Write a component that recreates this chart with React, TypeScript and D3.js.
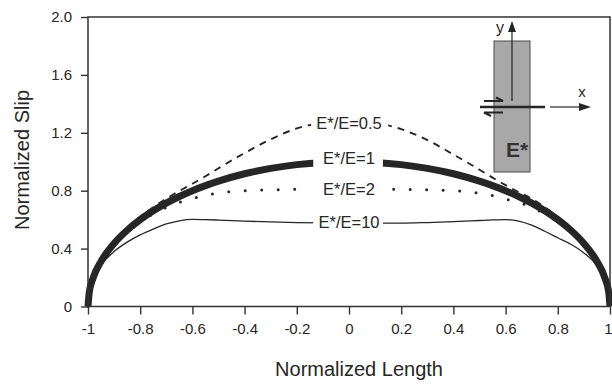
import { useEffect, useRef } from 'react'
import * as d3 from 'd3'

// normalized position along the fault
const xs = [
  -1, -0.995, -0.98, -0.95, -0.9, -0.85, -0.8, -0.75, -0.7, -0.65, -0.6, -0.55, -0.5, -0.4, -0.3, -0.2, -0.1,
  0, 0.1, 0.2, 0.3, 0.4, 0.5, 0.55, 0.6, 0.65, 0.7, 0.75, 0.8, 0.85, 0.9, 0.95, 0.98, 0.995, 1,
]

// E*/E = 0.5 (dashed)
const slipHalf = [
  0, 0.1, 0.2, 0.318, 0.45, 0.545, 0.62, 0.686, 0.745, 0.798, 0.848, 0.9, 0.955, 1.06, 1.155, 1.23, 1.27,
  1.285, 1.27, 1.225, 1.15, 1.05, 0.945, 0.89, 0.838, 0.79, 0.745, 0.686, 0.62, 0.545, 0.45, 0.318, 0.2, 0.1, 0,
]
// E*/E = 1 (thick)
const slipOne = [
  0, 0.1, 0.199, 0.312, 0.436, 0.527, 0.6, 0.661, 0.714, 0.76, 0.8, 0.835, 0.866, 0.917, 0.954, 0.98, 0.995,
  1.0, 0.995, 0.98, 0.954, 0.917, 0.866, 0.835, 0.8, 0.76, 0.714, 0.661, 0.6, 0.527, 0.436, 0.312, 0.199, 0.1, 0,
]
// E*/E = 2 (dotted)
const slipTwo = [
  0, 0.1, 0.198, 0.308, 0.428, 0.515, 0.585, 0.64, 0.685, 0.72, 0.745, 0.768, 0.785, 0.8, 0.806, 0.81, 0.812,
  0.813, 0.812, 0.81, 0.806, 0.8, 0.783, 0.766, 0.742, 0.718, 0.685, 0.64, 0.585, 0.515, 0.428, 0.308, 0.198, 0.1, 0,
]
// E*/E = 10 (thin)
const slipTen = [
  0, 0.09, 0.18, 0.285, 0.38, 0.445, 0.495, 0.535, 0.57, 0.592, 0.602, 0.6, 0.597, 0.59, 0.584, 0.58, 0.578,
  0.577, 0.576, 0.576, 0.58, 0.586, 0.594, 0.598, 0.6, 0.59, 0.562, 0.52, 0.475, 0.43, 0.37, 0.28, 0.18, 0.09, 0,
]

const xTicks = [-1, -0.8, -0.6, -0.4, -0.2, 0, 0.2, 0.4, 0.6, 0.8, 1]
const xTickLabels = ['-1', '-0.8', '-0.6', '-0.4', '-0.2', '0', '0.2', '0.4', '0.6', '0.8', '1']
const yTicks = [0, 0.4, 0.8, 1.2, 1.6, 2.0]
const yTickLabels = ['0', '0.4', '0.8', '1.2', '1.6', '2.0']

const labels = [
  { text: 'E*/E=0.5', y: 1.268, gapL: -0.145, gapR: 0.15 },
  { text: 'E*/E=1', y: 1.026, gapL: -0.137, gapR: 0.13 },
  { text: 'E*/E=2', y: 0.812, gapL: -0.168, gapR: 0.155 },
  { text: 'E*/E=10', y: 0.584, gapL: -0.137, gapR: 0.13 },
]

const ink = '#262626'
const font = '"Liberation Sans", Arial, Helvetica, sans-serif'

const App = () => {
  const svgRef = useRef<SVGSVGElement>(null)

  useEffect(() => {
    if (!svgRef.current) return
    const svg = d3.select(svgRef.current)
    svg.selectAll('*').remove()

    const left = 88
    const right = 610
    const top = 17
    const bottom = 306.5

    const x = d3.scaleLinear().domain([-1, 1]).range([left, right])
    const y = d3.scaleLinear().domain([0, 2]).range([bottom, top])

    const line = d3
      .line<number>()
      .x((_, i) => x(xs[i]))
      .y((d) => y(d))
      .curve(d3.curveMonotoneX)

    // curves
    svg.append('path').attr('d', line(slipTen)).attr('fill', 'none').attr('stroke', ink).attr('stroke-width', 1.3)
    svg
      .append('path')
      .attr('d', line(slipTwo))
      .attr('fill', 'none')
      .attr('stroke', ink)
      .attr('stroke-width', 3)
      .attr('stroke-linecap', 'round')
      .attr('stroke-dasharray', '0 16.5')
    svg.append('path').attr('d', line(slipOne)).attr('fill', 'none').attr('stroke', ink).attr('stroke-width', 7)
    svg
      .append('path')
      .attr('d', line(slipHalf))
      .attr('fill', 'none')
      .attr('stroke', ink)
      .attr('stroke-width', 1.9)
      .attr('stroke-dasharray', '7 6')

    // curve labels with white gaps
    labels.forEach((l) => {
      svg
        .append('rect')
        .attr('x', x(l.gapL))
        .attr('y', y(l.y + 0.055))
        .attr('width', x(l.gapR) - x(l.gapL))
        .attr('height', y(l.y - 0.065) - y(l.y + 0.055))
        .attr('fill', '#fff')
      svg
        .append('text')
        .attr('x', x(0))
        .attr('y', y(l.y))
        .attr('dy', '0.36em')
        .attr('text-anchor', 'middle')
        .style('font-family', font)
        .style('font-size', '16.5px')
        .style('fill', ink)
        .text(l.text)
    })

    // frame
    svg
      .append('rect')
      .attr('x', left)
      .attr('y', top)
      .attr('width', right - left)
      .attr('height', bottom - top)
      .attr('fill', 'none')
      .attr('stroke', '#333')
      .attr('stroke-width', 1.5)

    // axes
    const xAxis = svg
      .append('g')
      .attr('transform', `translate(0,${bottom})`)
      .call(
        d3
          .axisBottom(x)
          .tickValues(xTicks)
          .tickSize(8)
          .tickSizeOuter(0)
          .tickPadding(9)
          .tickFormat((_, i) => xTickLabels[i])
      )
    const yAxis = svg
      .append('g')
      .attr('transform', `translate(${left},0)`)
      .call(
        d3
          .axisLeft(y)
          .tickValues(yTicks)
          .tickSize(7)
          .tickSizeOuter(0)
          .tickPadding(9)
          .tickFormat((_, i) => yTickLabels[i])
      )
    ;[xAxis, yAxis].forEach((g) => {
      g.select('.domain').remove()
      g.selectAll('line').attr('stroke', '#333').attr('stroke-width', 1.4)
      g.selectAll('text').style('font-family', font).style('font-size', '15px').style('fill', ink)
    })
    // last label sits against the right edge
    xAxis
      .selectAll<SVGTextElement, number>('text')
      .filter((d) => d === 1)
      .attr('text-anchor', 'end')
      .attr('x', 2)

    svg
      .append('text')
      .attr('x', 359)
      .attr('y', 376)
      .attr('text-anchor', 'middle')
      .style('font-family', font)
      .style('font-size', '20px')
      .style('fill', ink)
      .text('Normalized Length')

    svg
      .append('text')
      .attr('transform', 'translate(29,160) rotate(-90)')
      .attr('text-anchor', 'middle')
      .style('font-family', font)
      .style('font-size', '20px')
      .style('fill', ink)
      .text('Normalized Slip')

    // inset sketch
    const inset = svg.append('g')
    inset
      .append('rect')
      .attr('x', 494)
      .attr('y', 41)
      .attr('width', 36)
      .attr('height', 131)
      .attr('fill', '#a8a8a8')
      .attr('stroke', '#4a4a4a')
      .attr('stroke-width', 1)
    inset.append('line').attr('x1', 512).attr('y1', 101).attr('x2', 512).attr('y2', 28).attr('stroke', ink).attr('stroke-width', 1.2)
    inset.append('path').attr('d', 'M512,21 L508,32 L516,32 Z').attr('fill', ink)
    inset
      .append('text')
      .attr('x', 500)
      .attr('y', 33)
      .attr('text-anchor', 'middle')
      .style('font-family', font)
      .style('font-size', '16px')
      .style('fill', ink)
      .text('y')
    inset.append('line').attr('x1', 480).attr('y1', 107).attr('x2', 545).attr('y2', 107).attr('stroke', ink).attr('stroke-width', 2.6)
    inset.append('line').attr('x1', 550).attr('y1', 107).attr('x2', 582).attr('y2', 107).attr('stroke', ink).attr('stroke-width', 1.2)
    inset.append('path').attr('d', 'M591,107 L579,103 L579,111 Z').attr('fill', ink)
    inset
      .append('text')
      .attr('x', 582)
      .attr('y', 97)
      .attr('text-anchor', 'middle')
      .style('font-family', font)
      .style('font-size', '15px')
      .style('fill', ink)
      .text('x')
    // sense of slip half arrows
    inset.append('path').attr('d', 'M484,101 L503,101 L496,97.5').attr('fill', 'none').attr('stroke', ink).attr('stroke-width', 2)
    inset.append('path').attr('d', 'M503,112.5 L484,112.5 L491,116').attr('fill', 'none').attr('stroke', ink).attr('stroke-width', 2)
    inset
      .append('text')
      .attr('x', 506)
      .attr('y', 157)
      .style('font-family', font)
      .style('font-size', '21px')
      .style('font-weight', 'bold')
      .style('fill', '#333')
      .text('E*')
  }, [])

  return (
    <svg
      ref={svgRef}
      width={612}
      height={385}
      style={{ position: 'absolute', left: 0, top: 0, background: '#fff' }}
    />
  )
}

export default App
